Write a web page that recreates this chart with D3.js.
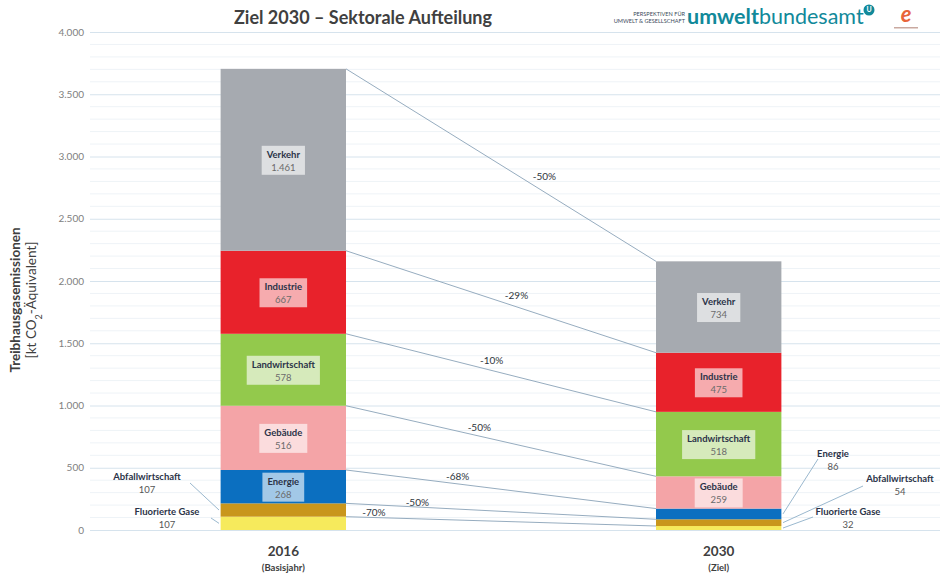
<!DOCTYPE html>
<html>
<head>
<meta charset="utf-8">
<script src="https://cdn.jsdelivr.net/npm/d3@7"></script>
<style>
  body { margin: 0; background: #fff; }
  svg { font-family: Lato, "Open Sans", sans-serif; }
</style>
</head>
<body>
<svg width="943" height="577"></svg>
<script>
// data, bottom to top
var sectors = ['Fluorierte Gase', 'Abfallwirtschaft', 'Energie', 'Gebäude', 'Landwirtschaft', 'Industrie', 'Verkehr'];
var values2016 = [107, 107, 268, 516, 578, 667, 1461];
var values2030 = [32, 54, 86, 259, 518, 475, 734];
var changes = ['-70%', '-50%', '-68%', '-50%', '-10%', '-29%', '-50%'];
var years = ['2016', '2030'];
var yearNotes = ['(Basisjahr)', '(Ziel)'];
var yTicks = [0, 500, 1000, 1500, 2000, 2500, 3000, 3500, 4000];

var colors = {
  'Fluorierte Gase': '#f6ea5c',
  'Abfallwirtschaft': '#c9961c',
  'Energie': '#0b6fc0',
  'Gebäude': '#f4a4a7',
  'Landwirtschaft': '#93c94c',
  'Industrie': '#e8222b',
  'Verkehr': '#a6aab0'
};

var de = d3.formatLocale({decimal: ',', thousands: '.', grouping: [3], currency: ['', ' €']});
var fmt = de.format(',d');

var svg = d3.select('svg');
var margin = {top: 32, left: 90, right: 3, bottom: 47};
var width = 943, height = 577;

var y = d3.scaleLinear().domain([0, 4000]).range([height - margin.bottom, margin.top]);
var x = d3.scaleBand().domain(years).range([margin.left, 912]).paddingInner(0.712).paddingOuter(0.3);

// minor grid
svg.append('g').selectAll('line')
  .data(d3.range(100, 4000, 100).filter(d => d % 500))
  .enter().append('line')
  .attr('x1', margin.left).attr('x2', width - margin.right)
  .attr('y1', d => y(d)).attr('y2', d => y(d))
  .attr('stroke', '#eef3f7').attr('stroke-width', 1);

// major grid
svg.append('g')
  .attr('transform', 'translate(' + margin.left + ',0)')
  .call(d3.axisLeft(y).tickValues(yTicks).tickSize(-(width - margin.right - margin.left)).tickFormat(''))
  .call(g => g.select('.domain').remove())
  .call(g => g.selectAll('line').attr('stroke', '#d6e3ed'));

// tick labels
svg.append('g')
  .attr('transform', 'translate(84,0)')
  .call(d3.axisLeft(y).tickValues(yTicks).tickSize(0).tickPadding(0).tickFormat(d => fmt(d)))
  .call(g => g.select('.domain').remove())
  .call(g => g.selectAll('text').attr('fill', '#808080').style('font-size', '10px').style('font-family', 'Lato, sans-serif'));

// y title
var yt = svg.append('text')
  .attr('transform', 'translate(20,300) rotate(-90)')
  .attr('text-anchor', 'middle')
  .attr('fill', '#404040')
  .style('font-size', '13.5px');
yt.append('tspan').attr('x', 0).attr('dy', 0).style('font-weight', 'bold').text('Treibhausgasemissionen');
var t2 = yt.append('tspan').attr('x', 0).attr('dy', 16);
t2.append('tspan').text('[kt CO');
t2.append('tspan').attr('baseline-shift', 'sub').style('font-size', '9px').text('2');
t2.append('tspan').text('-Äquivalent]');

// stack
function stackOf(vals) {
  var acc = 0;
  return vals.map((v, i) => { var s = {key: sectors[i], value: v, y0: acc, y1: acc + v, i: i}; acc += v; return s; });
}
var stacks = [stackOf(values2016), stackOf(values2030)];

// connecting lines
var x0 = x('2016') + x.bandwidth(), x1 = x('2030');
var labelT = [0.09, 0.23, 0.36, 0.43, 0.47, 0.55, 0.64];
var labelDy = [-5, -5, -7, -9, -10, -11, -16];
sectors.forEach((s, i) => {
  var ya = y(stacks[0][i].y1), yb = y(stacks[1][i].y1);
  svg.append('line')
    .attr('x1', x0).attr('y1', ya).attr('x2', x1).attr('y2', yb)
    .attr('stroke', '#8aa3b8').attr('stroke-width', 0.9);
  var t = labelT[i];
  svg.append('text')
    .attr('x', x0 + t * (x1 - x0)).attr('y', ya + t * (yb - ya) + labelDy[i])
    .attr('text-anchor', 'middle').attr('dy', '0.35em')
    .attr('fill', '#2f3640')
    .style('font-size', '10px')
    .text(changes[i]);
});

// bars
stacks.forEach((st, k) => {
  var g = svg.append('g');
  g.selectAll('rect').data(st).enter().append('rect')
    .attr('x', x(years[k]))
    .attr('width', x.bandwidth())
    .attr('y', d => y(d.y1))
    .attr('height', d => y(d.y0) - y(d.y1))
    .attr('fill', d => colors[d.key]);

  // inside labels
  st.filter(d => y(d.y0) - y(d.y1) > 20).forEach(d => {
    var cx = x(years[k]) + x.bandwidth() / 2;
    var cy = (y(d.y0) + y(d.y1)) / 2;
    var lg = g.append('g');
    var name = lg.append('text').attr('x', cx).attr('y', cy - 2).attr('text-anchor', 'middle')
      .attr('fill', '#2b3348').style('font-size', '9.5px').style('font-weight', 'bold').text(d.key);
    lg.append('text').attr('x', cx).attr('y', cy + 11).attr('text-anchor', 'middle')
      .attr('fill', '#6b6b6b').style('font-size', '9.5px').text(fmt(d.value));
    var w = name.node().getComputedTextLength() + 10;
    lg.insert('rect', 'text')
      .attr('x', cx - w / 2).attr('y', cy - 14).attr('width', w).attr('height', 29)
      .attr('fill', '#fff').attr('fill-opacity', 0.62);
  });
});

// outside labels for small segments
var outside = [
  {k: 0, i: 1, tx: 147, ty: 477, lx1: 190, ly1: 483, lx2: 219},
  {k: 0, i: 0, tx: 167, ty: 512, lx1: 211, ly1: 518, lx2: 219},
  {k: 1, i: 2, tx: 833, ty: 454, lx1: 818, ly1: 459, lx2: 783},
  {k: 1, i: 1, tx: 900, ty: 479, lx1: 863, ly1: 486, lx2: 783},
  {k: 1, i: 0, tx: 848, ty: 512, lx1: 813, ly1: 517, lx2: 783}
];
outside.forEach(o => {
  var d = stacks[o.k][o.i];
  var my = (y(d.y0) + y(d.y1)) / 2;
  svg.append('line').attr('x1', o.lx1).attr('y1', o.ly1).attr('x2', o.lx2).attr('y2', my)
    .attr('stroke', '#8fb0c8').attr('stroke-width', 0.9);
  svg.append('text').attr('x', o.tx).attr('y', o.ty).attr('dy', '0.35em').attr('text-anchor', 'middle')
    .attr('fill', '#2b3348').style('font-size', '9.5px').style('font-weight', 'bold').text(d.key);
  svg.append('text').attr('x', o.tx).attr('y', o.ty + 13).attr('dy', '0.35em').attr('text-anchor', 'middle')
    .attr('fill', '#555').style('font-size', '9.5px').text(fmt(d.value));
});

// x labels
years.forEach((yr, k) => {
  var cx = x(yr) + x.bandwidth() / 2;
  svg.append('text').attr('x', cx).attr('y', 556).attr('text-anchor', 'middle')
    .attr('fill', '#404040').style('font-size', '13.5px').style('font-weight', 'bold').text(yr);
  svg.append('text').attr('x', cx).attr('y', 571).attr('text-anchor', 'middle')
    .attr('fill', '#404040').style('font-size', '9.5px').style('font-weight', 'bold').text(yearNotes[k]);
});

// title
svg.append('text').attr('x', 363).attr('y', 24).attr('text-anchor', 'middle')
  .attr('fill', '#404040').style('font-size', '18px').style('font-weight', 'bold')
  .text('Ziel 2030 – Sektorale Aufteilung');

// logo
var logo = svg.append('g');
logo.append('text').attr('x', 685).attr('y', 16).attr('text-anchor', 'end')
  .attr('fill', '#3a4a5a').style('font-size', '5.6px').text('PERSPEKTIVEN FÜR');
logo.append('text').attr('x', 685).attr('y', 23).attr('text-anchor', 'end')
  .attr('fill', '#3a4a5a').style('font-size', '5.6px').text('UMWELT & GESELLSCHAFT');
var lt = logo.append('text').attr('x', 687).attr('y', 24).attr('fill', '#11899a').style('font-size', '21.5px');
lt.append('tspan').style('font-weight', 'bold').text('umwelt');
lt.append('tspan').text('bundesamt');
logo.append('circle').attr('cx', 869).attr('cy', 10).attr('r', 5.5).attr('fill', '#11899a');
logo.append('text').attr('x', 869).attr('y', 10).attr('dy', '0.35em').attr('text-anchor', 'middle')
  .attr('fill', '#fff').style('font-size', '7px').style('font-weight', 'bold').text('U');
logo.append('text').attr('x', 906).attr('y', 22).attr('text-anchor', 'middle')
  .attr('fill', '#e8643a').style('font-size', '22px').style('font-weight', 'bold').style('font-style', 'italic').text('e');
logo.append('rect').attr('x', 894).attr('y', 27).attr('width', 24).attr('height', 1.5).attr('fill', '#c9a9a0');
</script>
</body>
</html>
